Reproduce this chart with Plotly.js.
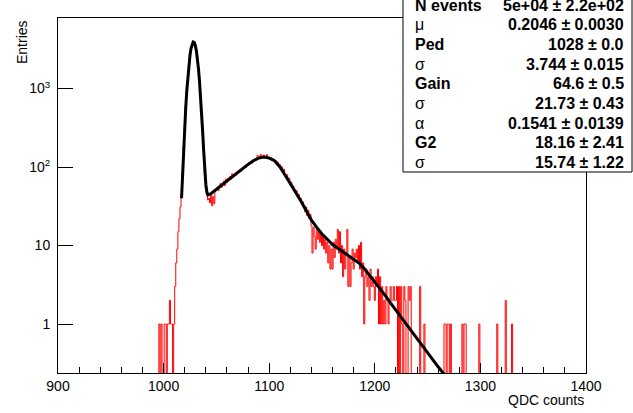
<!DOCTYPE html>
<html>
<head>
<meta charset="utf-8">
<script src="https://cdn.plot.ly/plotly-3.0.1.min.js"></script>
<style>html,body{margin:0;padding:0;background:#fff;}#chart{width:633px;height:413px;}</style>
</head>
<body>
<div id="chart"></div>
<script>
// ---- data ----
const binLow = 995; // centre of first bin, bin width 1 QDC count
const counts = [
  0,1,0,1,0,0,1,1,0,1,
  1,2,1,1,0,1,3,6,9,15,
  22,31,46,88,185,330,600,945,1470,2020,
  2700,3240,3750,3960,3850,3580,3010,2450,1770,1260,
  790,470,270,160,82,52,44,38,40,35,
  46,32,42,34,49,52,55,50,58,62,
  55,61,66,58,70,64,72,69,76,70,
  82,74,80,84,79,88,85,92,87,96,
  93,100,104,98,108,105,113,110,118,112,
  122,119,128,124,140,131,137,145,133,139,
  142,130,137,144,131,134,126,131,122,127,
  118,121,112,116,104,108,96,101,88,94,
  82,76,80,68,72,62,64,55,57,52,
  48,50,42,45,38,40,34,36,30,27,
  31,24,28,22,25,18,8,17,13,9,
  16,12,15,11,14,10,13,9,12,8,
  11,6,10,5,9,5,11,7,12,9,
  16,8,15,6,10,4,9,5,8,16,
  3,7,3,6,9,5,8,7,9,6,
  10,5,11,4,6,1,4,5,3,4,
  2,5,3,4,3,2,4,3,5,1,
  4,1,3,1,2,1,3,2,1,2,
  3,2,2,3,2,2,3,0,3,0,
  3,1,0,3,2,0,0,3,2,3,
  0,0,0,0,0,0,0,0,3,0,
  0,0,1,0,0,0,0,0,0,0,
  0,0,0,0,0,0,0,0,0,0,
  0,1,1,0,1,1,0,1,0,0,
  0,0,0,0,0,0,0,0,1,0,
  1,1,0,0,0,0,0,0,0,0,
  0,0,0,0,1,0,0,0,0,0,
  0,0,0,0,0,0,0,0,0,0,
  0,1,0,0,0,0,0,0,0,2,
  0,0,0,0,0,1,0,0,0,0,
  0
];
const fitX = [1017,1018,1019,1020,1021,1022,1023,1024,1025,1026,1027,1028,1029,1030,1031,1032,1033,1034,1035,1036,1037,1038,1039,1040,1041,1042,
  1045,1050,1055,1060,1065,1070,1075,1080,1085,1090,1095,1100,1105,1110,1115,1120,1125,1130,1135,1140,1145,1150,1155,1160,1165,1170,1175,1180,1185,1190,1195,1200,1205,1210,1215,1220,1225,1230,1235,1240,1245,1250,1255,1260,1265,1270];
const fitY = [40,88,178,335,585,950,1440,2030,2660,3250,3700,3920,3870,3550,3040,2420,1800,1245,805,487,280,158,92,60,48,44,
  46,52,59,67,76,85,96,108,120,130,134,130,120,101,79,62,49,37,28,21,17,14,12,10.3,9.2,8.3,7.5,6.8,6.0,5.1,4.2,3.45,2.8,2.3,1.85,1.5,1.22,0.98,0.80,0.65,0.53,0.43,0.35,0.285,0.235,0.19];
const yTickVals = [1,10,100,1000];
const yTickText = ['1','10','10<sup>2</sup>','10<sup>3</sup>'];
const yMinorVals = [0.3,0.4,0.5,0.6,0.7,0.8,0.9,2,3,4,5,6,7,8,9,20,30,40,50,60,70,80,90,200,300,400,500,600,700,800,900,2000,3000,4000,5000,6000,7000];
const statLabels = ['N events','μ','Ped','σ','Gain','σ','α','G2','σ'];
const statValues = ['5e+04 ± 2.2e+02','0.2046 ± 0.0030','1028 ± 0.0','3.744 ± 0.015','64.6 ± 0.5','21.73 ± 0.43','0.1541 ± 0.0139','18.16 ± 2.41','15.74 ± 1.22'];

// ---- geometry (pixels) ----
const W = 633, H = 413, L = 58, R = 586, T = 18, B = 373;
const px = x => (x - L) / (R - L);
const py = y => (B - y) / (B - T);
const FONT = 'Liberation Sans, Arial, Helvetica, sans-serif';

const histX = counts.map((c, i) => binLow + i);
const histY = counts.map(c => (c > 0 ? c : 1e-3));

const traces = [
  {x: histX, y: histY, type: 'scatter', mode: 'lines', line: {color: '#ff0000', width: 1, shape: 'hvh'}, hoverinfo: 'skip'},
  {x: fitX, y: fitY, type: 'scatter', mode: 'lines', line: {color: '#000000', width: 3}, hoverinfo: 'skip'}
];

const annotations = [
  {text: 'QDC counts', xref: 'paper', yref: 'paper', x: 1, y: py(400), xanchor: 'right', yanchor: 'middle', showarrow: false, font: {family: FONT, size: 14, color: '#000'}},
  {text: 'Entries', xref: 'paper', yref: 'paper', x: px(22), y: 1, xanchor: 'center', yanchor: 'top', textangle: -90, showarrow: false, font: {family: FONT, size: 14, color: '#000'}}
];
statLabels.forEach((lab, i) => {
  const yc = 5 + 19.7 * i;
  const greek = /[μσα]/.test(lab);
  annotations.push({text: greek ? lab : '<b>' + lab + '</b>', xref: 'paper', yref: 'paper', x: px(413), y: py(yc), xanchor: 'left', yanchor: 'middle', showarrow: false, font: {family: FONT, size: 16, color: '#000'}});
  annotations.push({text: '<b>' + statValues[i] + '</b>', xref: 'paper', yref: 'paper', x: px(626), y: py(yc), xanchor: 'right', yanchor: 'middle', showarrow: false, font: {family: FONT, size: 16, color: '#000'}});
});

const layout = {
  width: W, height: H,
  margin: {l: L, r: W - R, t: T, b: H - B, pad: 0},
  paper_bgcolor: '#fff', plot_bgcolor: '#fff',
  showlegend: false,
  font: {family: FONT, size: 14, color: '#000'},
  xaxis: {
    range: [900, 1400], tick0: 900, dtick: 100, ticks: 'inside', ticklen: 10, tickcolor: '#000', tickwidth: 1,
    showline: true, linecolor: '#000', linewidth: 1, mirror: true, showgrid: false, zeroline: false,
    tickfont: {family: FONT, size: 14, color: '#000'},
    minor: {dtick: 20, tick0: 900, ticks: 'inside', ticklen: 6, tickcolor: '#000', tickwidth: 1, showgrid: false}
  },
  yaxis: {
    type: 'log', range: [-0.624, 3.898], tickmode: 'array', tickvals: yTickVals, ticktext: yTickText,
    ticks: 'inside', ticklen: 15, tickcolor: '#000', tickwidth: 1, ticklabelstandoff: 4,
    showline: true, linecolor: '#000', linewidth: 1, mirror: true, showgrid: false, zeroline: false,
    tickfont: {family: FONT, size: 14, color: '#000'}
  },
  yaxis2: {
    type: 'log', range: [-0.624, 3.898], overlaying: 'y', anchor: 'x', side: 'left',
    tickmode: 'array', tickvals: yMinorVals, ticktext: yMinorVals.map(() => ''),
    ticks: 'inside', ticklen: 8, tickcolor: '#000', tickwidth: 1, showticklabels: false,
    showline: false, showgrid: false, zeroline: false
  },
  shapes: [
    {type: 'rect', xref: 'paper', yref: 'paper', x0: px(403), x1: px(632), y0: py(172), y1: py(-3), fillcolor: '#fff', line: {color: '#000', width: 1}, layer: 'above'}
  ],
  annotations: annotations
};

Plotly.newPlot('chart', traces, layout, {staticPlot: true, displayModeBar: false});
</script>
</body>
</html>
